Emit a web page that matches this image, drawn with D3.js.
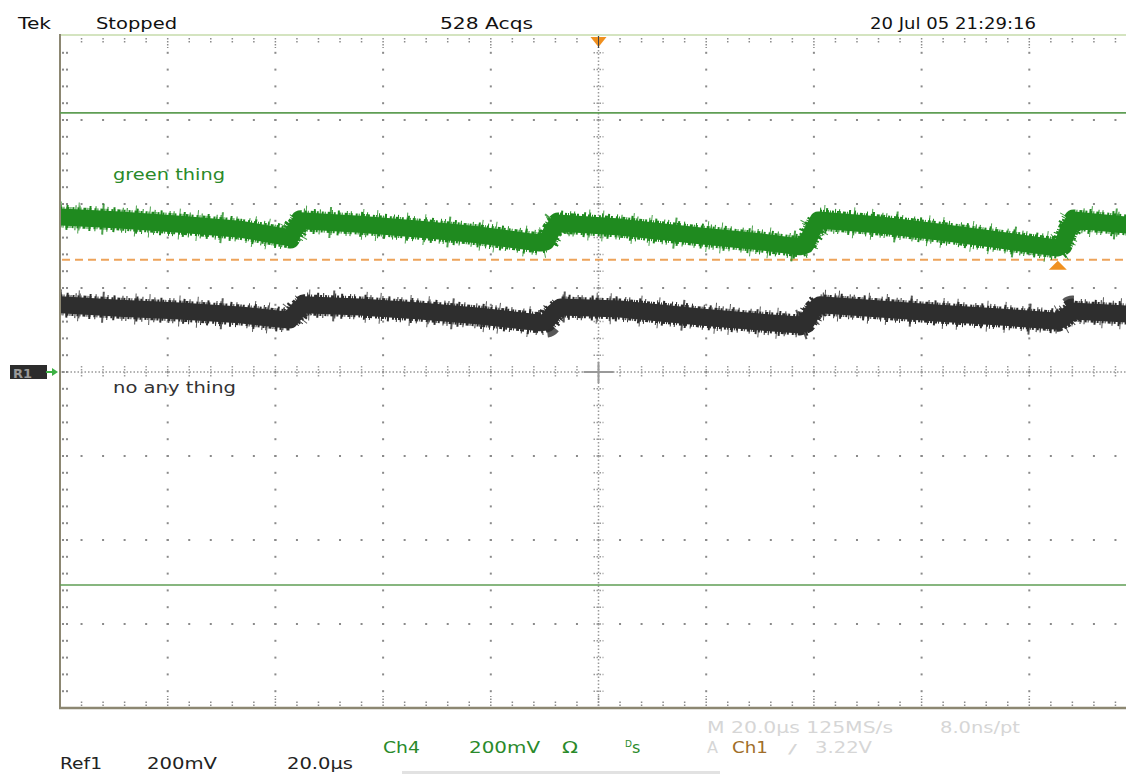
<!DOCTYPE html>
<html><head><meta charset="utf-8">
<script src="https://cdn.jsdelivr.net/npm/d3@7"></script>
<style>body{margin:0;background:#fff}svg{display:block}</style>
</head><body>
<svg id="c" width="1126" height="774"></svg>
<script>
// ---------------- data ----------------
const timeDomain = [-100, 100];   // µs, 20 µs/div
const voltDomain = [-800, 800];   // mV, 200 mV/div
const majorTimeStep = 20, minorTimeStep = 4;
const majorVoltStep = 200, minorVoltStep = 40;

// Ch4 (green) trace, centre of the noisy band
const ch4Time = [-100, -88.9, -77.7, -66.6, -58, -57.3, -56.2, -55.3, -44.3, -33.1, -22, -10.9, -9.7, -8.6, -7.5, 4, 18.9, 30, 37.4, 38.5, 39.6, 40.8, 52.3, 63.4, 74.6, 85.3, 86.1, 87.2, 88.3, 98.1];
const ch4Volt = [369, 362, 352, 340, 321, 319, 343, 360, 352, 340, 326, 307, 310, 338, 355, 345, 324, 310, 298, 302, 333, 362, 350, 333, 314, 295, 302, 338, 362, 350];

// Ref1 (black) trace
const ref1Time = [-100, -88.9, -77.7, -66.6, -58, -57.3, -55.8, -54.7, -44.3, -33.1, -22, -10.9, -9.7, -8.2, -7.1, 4, 18.9, 30, 37.4, 38.5, 40, 41.1, 52.3, 63.4, 74.6, 85.3, 86.5, 88, 98.1];
const ref1Volt = [160, 152, 145, 136, 124, 124, 148, 160, 155, 145, 133, 117, 119, 143, 155, 150, 131, 119, 112, 117, 148, 160, 150, 140, 131, 121, 129, 145, 138];

const cursorLevels = [617, -507];  // mV, horizontal cursors
const triggerLevel = 267;          // mV
const triggerTime = 0;             // µs
const triggerMarkTime = 85.3;      // µs

const headerLabels = ["Tek", "Stopped", "528 Acqs", "20 Jul 05 21:29:16"];
const traceLabels = ["green thing", "no any thing"];
const refLabels = ["Ref1", "200mV", "20.0µs"];
const ch4Labels = ["Ch4", "200mV", "Ω"];
const acqLabels = ["M 20.0µs 125MS/s", "8.0ns/pt"];
const trigLabels = ["A", "Ch1", "/", "3.22V"];

// ---------------- drawing ----------------
const svg = d3.select("#c");
const W = 1126, H = 774;
const L = 60, T = 36, B = 708, divW = 107.7;
const x = d3.scaleLinear().domain(timeDomain).range([L, L + 10 * divW]);
const y = d3.scaleLinear().domain(voltDomain).range([B, T]);
const FONT = "'DejaVu Sans', 'Liberation Sans', sans-serif";

svg.append("rect").attr("width", W).attr("height", H).attr("fill", "#fff");

const defs = svg.append("defs");
defs.append("clipPath").attr("id", "plot").append("rect")
  .attr("x", L + 1).attr("y", T - 1).attr("width", W - L).attr("height", B - T + 2);

const grid = svg.append("g");
const dotCol = "#8a8a8a";
const majT = d3.range(timeDomain[0], timeDomain[1] + 0.01, majorTimeStep);
const minT = d3.range(timeDomain[0], timeDomain[1] + 0.01, minorTimeStep);
const majV = d3.range(voltDomain[0], voltDomain[1] + 0.01, majorVoltStep);
const minV = d3.range(voltDomain[0], voltDomain[1] + 0.01, minorVoltStep);

// dots along major vertical lines
majT.filter(t => t !== timeDomain[0] && t !== 0).forEach(t => {
  grid.selectAll(null).data(minV.filter(v => v > voltDomain[0] && v < voltDomain[1])).enter()
    .append("rect").attr("x", x(t) - 1).attr("y", v => y(v) - 1).attr("width", 2).attr("height", 2).attr("fill", dotCol);
});
// dots along major horizontal lines
majV.filter(v => v !== voltDomain[0] && v !== voltDomain[1] && v !== 0).forEach(v => {
  grid.selectAll(null).data(minT.filter(t => t > timeDomain[0])).enter()
    .append("rect").attr("x", t => x(t) - 1).attr("y", y(v) - 1).attr("width", 2).attr("height", 2).attr("fill", dotCol);
});
// left edge double dots
grid.selectAll(null).data(minV.filter(v => v > voltDomain[0] && v < voltDomain[1])).enter()
  .append("g").each(function (v) {
    const g = d3.select(this);
    [63, 67].forEach(xx => g.append("rect").attr("x", xx - 1).attr("y", y(v) - 1).attr("width", 2).attr("height", 2).attr("fill", dotCol));
  });
// top / bottom edge ticks
minT.filter(t => t > timeDomain[0]).forEach(t => {
  const major = Math.abs(t % majorTimeStep) < 1e-6;
  grid.append("line").attr("x1", x(t)).attr("x2", x(t)).attr("y1", T + 2).attr("y2", T + (major ? 12 : 7))
    .attr("stroke", dotCol).attr("stroke-width", 1.5).attr("stroke-dasharray", "1.5,1.5");
  grid.append("line").attr("x1", x(t)).attr("x2", x(t)).attr("y1", B - 2).attr("y2", B - (major ? 12 : 7))
    .attr("stroke", dotCol).attr("stroke-width", 1.5).attr("stroke-dasharray", "1.5,1.5");
});
// centre crosshair
const cx = x(triggerTime), cy = y(0);
grid.append("line").attr("x1", L).attr("x2", W).attr("y1", cy).attr("y2", cy)
  .attr("stroke", "#999").attr("stroke-width", 1.5).attr("stroke-dasharray", "1.5,2");
grid.append("line").attr("x1", cx).attr("x2", cx).attr("y1", T).attr("y2", B)
  .attr("stroke", "#999").attr("stroke-width", 1.5).attr("stroke-dasharray", "1.5,2");
minT.filter(t => t > timeDomain[0]).forEach(t => {
  grid.append("line").attr("x1", x(t)).attr("x2", x(t)).attr("y1", cy - 6).attr("y2", cy + 6)
    .attr("stroke", "#999").attr("stroke-width", 1.5).attr("stroke-dasharray", "1.5,1.5");
});
minV.filter(v => v > voltDomain[0] && v < voltDomain[1]).forEach(v => {
  grid.append("line").attr("x1", cx - 5).attr("x2", cx + 5).attr("y1", y(v)).attr("y2", y(v))
    .attr("stroke", "#999").attr("stroke-width", 1.5).attr("stroke-dasharray", "1.5,1.5");
});
grid.append("line").attr("x1", cx - 15).attr("x2", cx + 15).attr("y1", cy).attr("y2", cy).attr("stroke", "#999").attr("stroke-width", 2);
grid.append("line").attr("x1", cx).attr("x2", cx).attr("y1", cy - 10).attr("y2", cy + 11).attr("stroke", "#999").attr("stroke-width", 2);

// frame
svg.append("line").attr("x1", L).attr("x2", W).attr("y1", T - 1).attr("y2", T - 1).attr("stroke", "#c6dbab").attr("stroke-width", 1.5);
svg.append("line").attr("x1", L).attr("x2", L).attr("y1", T - 2).attr("y2", B + 1).attr("stroke", "#8c8772").attr("stroke-width", 2);
svg.append("line").attr("x1", L - 1).attr("x2", W).attr("y1", B).attr("y2", B).attr("stroke", "#8c8772").attr("stroke-width", 2.5);

// cursors
svg.selectAll(null).data(cursorLevels).enter().append("line")
  .attr("x1", L).attr("x2", W).attr("y1", d => y(d)).attr("y2", d => y(d))
  .attr("stroke", "#5f9e55").attr("stroke-width", 1.6);

// trigger level dashed line
svg.append("line").attr("x1", L + 2).attr("x2", W).attr("y1", y(triggerLevel)).attr("y2", y(triggerLevel))
  .attr("stroke", "#eda35a").attr("stroke-width", 2).attr("stroke-dasharray", "8,5");

// traces
const line = d3.line().x(d => x(d[0])).y(d => y(d[1]));
function trace(times, volts, col) {
  const pts = times.map((t, i) => [t, volts[i]]);
  const g = svg.append("g").attr("clip-path", "url(#plot)");
  const d = line(pts);
  const layers = [
    {w: 31, dash: "1,17,1,23,2,31,1,13,1,29", op: 0.8},
    {w: 25, dash: "1,5,2,7,1,3,1,9,2,4,1,11", op: 1},
    {w: 21, dash: "2,1,1,2,3,1,1,1,2,3", op: 1},
    {w: 17, dash: null, op: 1}
  ];
  layers.forEach(l => {
    const p = g.append("path").attr("d", d).attr("fill", "none").attr("stroke", col)
      .attr("stroke-width", l.w).attr("stroke-linejoin", "round").attr("opacity", l.op);
    if (l.dash) p.attr("stroke-dasharray", l.dash);
  });
}
trace(ch4Time, ch4Volt, "#1f8a1f");
trace(ref1Time, ref1Volt, "#2e2e2e");

// trigger markers
const tx = x(triggerTime);
svg.append("path").attr("d", `M${tx - 8},${T + 1}L${tx + 8},${T + 1}L${tx},${T + 11}Z`).attr("fill", "#f0901f");
svg.append("line").attr("x1", tx).attr("x2", tx).attr("y1", T).attr("y2", T + 12).attr("stroke", "#444").attr("stroke-width", 1);
const mx = x(triggerMarkTime), my = y(triggerLevel);
svg.append("path").attr("d", `M${mx},${my + 1}L${mx - 9},${my + 10}L${mx + 9},${my + 10}Z`).attr("fill", "#f0901f");

// R1 marker
svg.append("rect").attr("x", 10).attr("y", 365).attr("width", 37).attr("height", 14).attr("fill", "#2c2c2c");
svg.append("text").attr("x", 13).attr("y", 377.5).text("R1").attr("font-family", FONT).attr("font-size", 13)
  .attr("font-weight", "bold").attr("fill", "#9a9a9a");
svg.append("line").attr("x1", 46).attr("x2", 54).attr("y1", cy).attr("y2", cy).attr("stroke", "#3cb043").attr("stroke-width", 2);
svg.append("path").attr("d", `M52,${cy - 4}L58,${cy}L52,${cy + 4}Z`).attr("fill", "#3cb043");

// texts
function txt(s, xx, yy, col, size, len) {
  const t = svg.append("text").attr("x", xx).attr("y", yy).text(s).attr("fill", col)
    .attr("font-family", FONT).attr("font-size", size);
  if (len) t.attr("textLength", len).attr("lengthAdjust", "spacingAndGlyphs");
  return t;
}
txt(headerLabels[0], 18, 29, "#111", 16, 33);
txt(headerLabels[1], 96, 29, "#111", 16, 81);
txt(headerLabels[2], 440, 29, "#111", 16, 93);
txt(headerLabels[3], 870, 29, "#111", 16, 166);

txt(traceLabels[0], 113, 180, "#2a8a2a", 15.5, 112);
txt(traceLabels[1], 113, 393, "#333", 15.5, 123);

txt(refLabels[0], 60, 769, "#222", 16, 42);
txt(refLabels[1], 147, 769, "#222", 16, 70);
txt(refLabels[2], 287, 769, "#222", 16, 66);

txt(ch4Labels[0], 383, 753, "#2a8a2a", 16, 37);
txt(ch4Labels[1], 469, 753, "#2a8a2a", 16, 71);
txt(ch4Labels[2], 562, 753, "#2a8a2a", 16, 16);
const ds = svg.append("text").attr("x", 625).attr("y", 753).attr("fill", "#2a8a2a").attr("font-family", FONT);
ds.append("tspan").text("D").attr("font-size", 9).attr("dy", -6);
ds.append("tspan").text("s").attr("font-size", 16).attr("dy", 6);

txt(acqLabels[0], 707, 733, "#d6d6d6", 16, 186);
txt(acqLabels[1], 940, 733, "#d6d6d6", 16, 80);
txt(trigLabels[0], 707, 753, "#d6d6d6", 16, 11);
txt(trigLabels[1], 732, 753, "#a06e2a", 16, 36);
txt(trigLabels[2], 788, 753, "#d6d6d6", 12, 9);
txt(trigLabels[3], 815, 753, "#d6d6d6", 16, 57);

svg.append("rect").attr("x", 402).attr("y", 771).attr("width", 318).attr("height", 3).attr("fill", "#e2e2e2");
</script>
</body></html>
